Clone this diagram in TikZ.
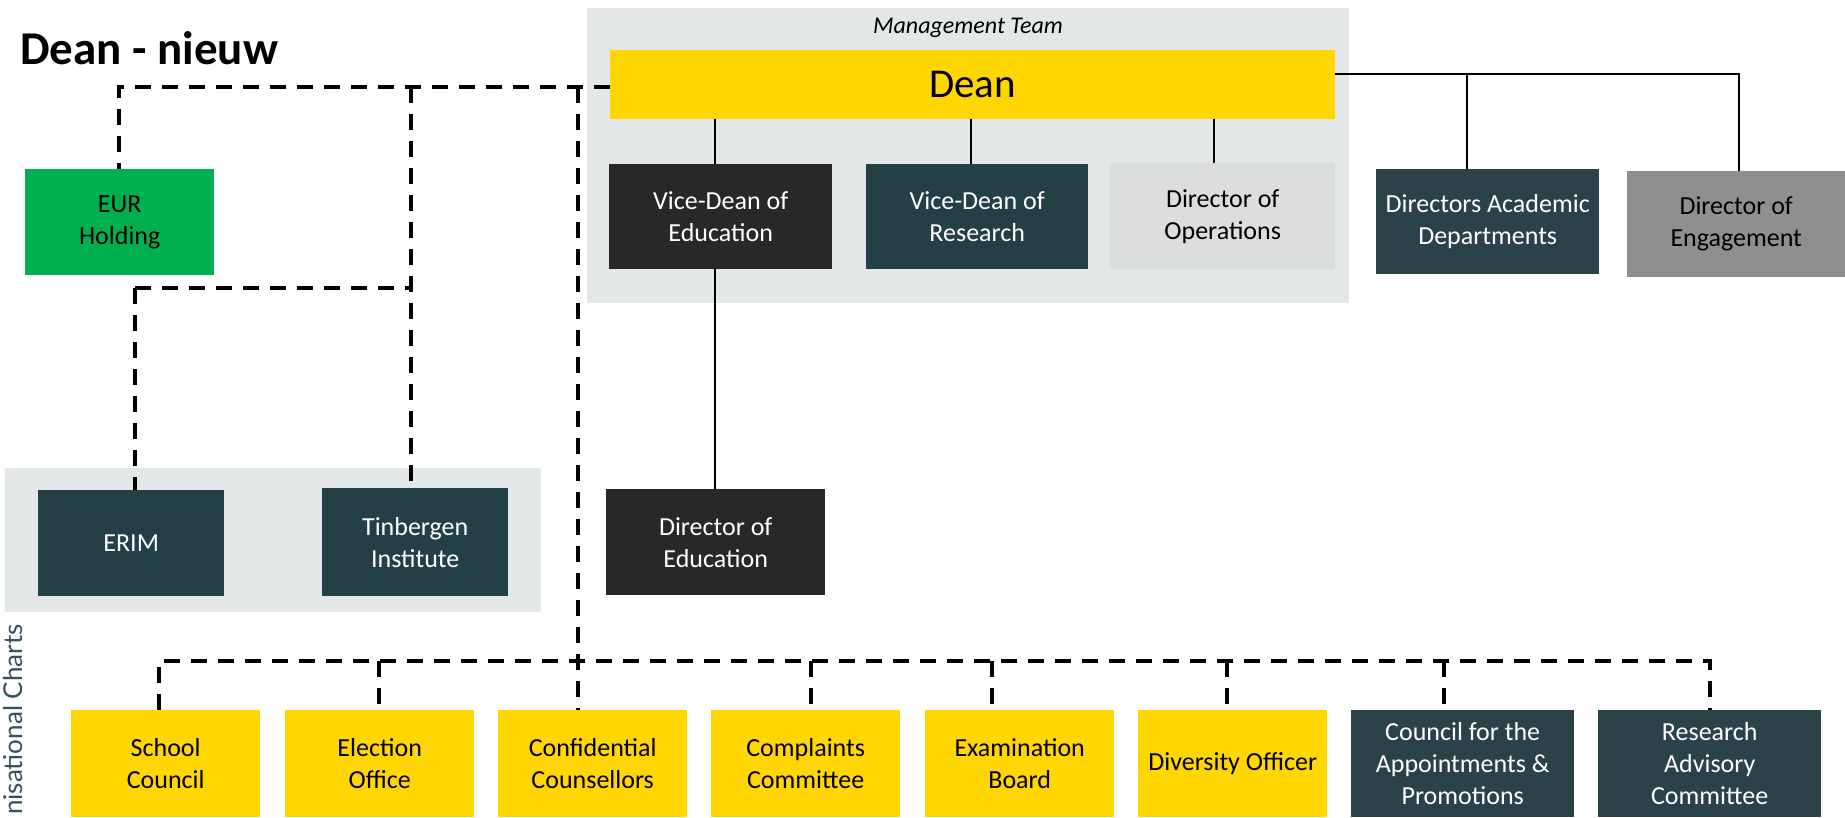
\documentclass[tikz,border=0pt]{standalone}
\usepackage{fontspec}
\setmainfont{Carlito}
\newfontfamily\vfont{Lato}
\usetikzlibrary{calc}
\definecolor{cyellow}{HTML}{FFD600}
\definecolor{cdark}{HTML}{282828}
\definecolor{cteal}{HTML}{244047}
\definecolor{cteallight}{HTML}{2A4349}
\definecolor{clgray}{HTML}{DCDDDD}
\definecolor{cmgray}{HTML}{8F8F8F}
\definecolor{cbg}{HTML}{E4E7E8}
\definecolor{cgreen}{HTML}{00B050}
\definecolor{cvtext}{HTML}{34525A}
\begin{document}
\begin{tikzpicture}[x=1pt,y=-1pt,
  bg/.style={rectangle, inner sep=0pt, anchor=north west, fill=cbg},
  box/.style={rectangle, inner sep=0pt, anchor=north west, align=center,
    font=\fontsize{26}{32}\selectfont},
  yel/.style={box, fill=cyellow, text=black},
  drk/.style={box, fill=cdark, text=white},
  tea/.style={box, fill=cteal, text=white},
  dashline/.style={line width=3.5pt, dash pattern=on 16pt off 11pt},
  solidline/.style={line width=2pt}]
\useasboundingbox (0,0) rectangle (1845,817);

% backgrounds
\node[bg, minimum width=762pt, minimum height=295pt] (mgmt) at (587,8) {};
\node[bg, minimum width=536pt, minimum height=144pt] (resbg) at (5,468) {};

% title and labels
\node[anchor=base west, inner sep=0pt, font=\fontsize{47}{56}\selectfont\bfseries] (title) at (20,64) {Dean - nieuw};
\node[anchor=base, inner sep=0pt, font=\fontsize{24}{28}\selectfont\itshape] (mtlabel) at (968,33) {Management Team};
\node[rotate=90, anchor=base west, inner sep=0pt, text=cvtext, font=\vfont\fontsize{26}{30}\selectfont] (vtext) at (22,815) {nisational Charts};

% coordinates for connector junctions
\coordinate (jl) at (119,87);
\coordinate (jt) at (411,87);
\coordinate (jc) at (578,87);
\coordinate (je) at (135,288);
\coordinate (jm) at (411,288);
\coordinate (jr) at (1739,74);
\coordinate (jd) at (1467,74);

% dashed connectors (drawn first)
\draw[dashline] (610,87) -- (jl) -- (119,169);
\draw[dashline] (jt) -- (411,488);
\draw[dashline] (je) -- (jm);
\draw[dashline] (je) -- (135,490);
\draw[dashline] (jc) -- (578,710);
\draw[dashline] (159,710) -- (159,661) -- (1710,661) -- (1710,710);
\foreach \x in {379,811,992,1227,1444} {
  \draw[dashline] (\x,661) -- (\x,710);
}

% boxes
\node[yel, minimum width=725pt, minimum height=69pt, font=\fontsize{41}{48}\selectfont] (dean) at (610,50) {Dean};
\node[drk, minimum width=223pt, minimum height=105pt] (vde) at (609,164) {Vice-Dean of\\Education};
\node[tea, minimum width=222pt, minimum height=105pt] (vdr) at (866,164) {Vice-Dean of\\Research};
\node[box, fill=clgray, minimum width=225pt, minimum height=106pt] (dops) at (1110,163) {Director of\\Operations};
\node[box, fill=cteallight, text=white, minimum width=223pt, minimum height=105pt] (dad) at (1376,169) {Directors Academic\\Departments};
\node[box, fill=cmgray, minimum width=218pt, minimum height=106pt] (deng) at (1627,171) {Director of\\Engagement};
\node[box, fill=cgreen, minimum width=189pt, minimum height=106pt] (eur) at (25,169) {EUR\\Holding};
\node[tea, minimum width=186pt, minimum height=106pt] (erim) at (38,490) {ERIM};
\node[tea, minimum width=186pt, minimum height=108pt] (tin) at (322,488) {Tinbergen\\Institute};
\node[drk, minimum width=219pt, minimum height=106pt] (dired) at (606,489) {Director of\\Education};

\node[yel, minimum width=189pt, minimum height=107pt] (school) at (71,710) {School\\Council};
\node[yel, minimum width=189pt, minimum height=107pt] (elect) at (285,710) {Election\\Office};
\node[yel, minimum width=189pt, minimum height=107pt] (conf) at (498,710) {Confidential\\Counsellors};
\node[yel, minimum width=189pt, minimum height=107pt] (compl) at (711,710) {Complaints\\Committee};
\node[yel, minimum width=189pt, minimum height=107pt] (exam) at (925,710) {Examination\\Board};
\node[yel, minimum width=189pt, minimum height=107pt] (div) at (1138,710) {Diversity Officer};
\node[box, fill=cteallight, text=white, minimum width=223pt, minimum height=107pt] (council) at (1351,710) {Council for the\\Appointments \&\\Promotions};
\node[box, fill=cteallight, text=white, minimum width=223pt, minimum height=107pt] (rac) at (1598,710) {Research\\Advisory\\Committee};

% solid connectors
\draw[solidline] (dean.south -| 715,0) -- (vde.north -| 715,0);
\draw[solidline] (dean.south -| 971,0) -- (vdr.north -| 971,0);
\draw[solidline] (dean.south -| 1214,0) -- (dops.north -| 1214,0);
\draw[solidline] (vde.south -| 715,0) -- (dired.north -| 715,0);
\draw[solidline] (dean.east |- jr) -- (jr) -- (jr |- deng.north);
\draw[solidline] (jd) -- (jd |- dad.north);
\end{tikzpicture}
\end{document}
